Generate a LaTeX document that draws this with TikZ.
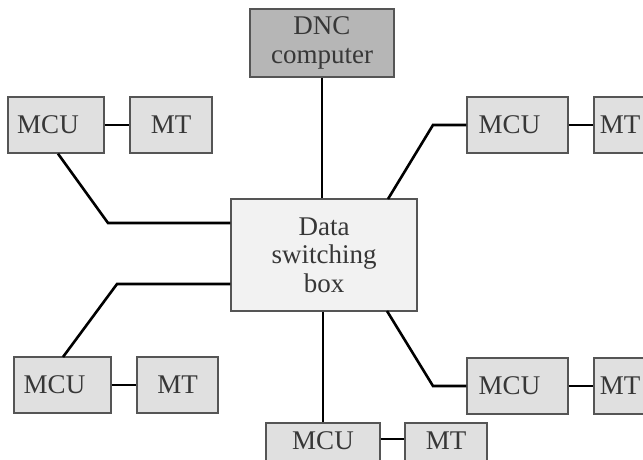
\documentclass[tikz,border=0pt]{standalone}
\usepackage{fontspec}
\setmainfont{Liberation Serif}
\definecolor{edgegray}{RGB}{85,85,85}
\definecolor{unitfill}{RGB}{224,224,224}
\definecolor{hostfill}{RGB}{182,182,182}
\definecolor{switchfill}{RGB}{242,242,242}
\definecolor{labelgray}{RGB}{55,55,55}
\newcommand{\leftlabel}[1]{#1\hspace{16pt}}
\begin{document}
\begin{tikzpicture}[x=1pt,y=-1pt,
  box/.style={draw=edgegray,line width=1.4pt,inner sep=0pt,align=center,
    text=labelgray,font=\fontsize{27}{28.5}\selectfont},
  unit/.style={box,fill=unitfill,minimum height=56pt},
  host/.style={box,fill=hostfill},
  switchbox/.style={box,fill=switchfill},
  wire/.style={draw=black,line width=2.6pt,line join=miter}]
\useasboundingbox (0,0) rectangle (643,459);
\clip (0,0) rectangle (643,459);
\fill[white] (0,0) rectangle (643,459);

% central nodes
\node[host,minimum width=144pt,minimum height=68pt] (dnc) at (322,43) {DNC\\computer};
\node[switchbox,minimum width=186pt,minimum height=112pt] (dsb) at (324,255) {Data\\switching\\box};

% machine control units and machine tools
\node[unit,minimum width=96pt] (mcuTL) at (56,125) {\leftlabel{MCU}};
\node[unit,minimum width=82pt] (mtTL) at (171,125) {MT};
\node[unit,minimum width=101pt] (mcuTR) at (517.5,125) {\leftlabel{MCU}};
\node[unit,minimum width=52pt] (mtTR) at (620,125) {MT};
\node[unit,minimum width=97pt] (mcuBL) at (62.5,385) {\leftlabel{MCU}};
\node[unit,minimum width=81pt] (mtBL) at (177.5,385) {MT};
\node[unit,minimum width=101pt] (mcuBR) at (517.5,386) {\leftlabel{MCU}};
\node[unit,minimum width=52pt] (mtBR) at (620,386) {MT};
\node[unit,minimum width=114pt,minimum height=40pt] (mcuB) at (323,443) {\raisebox{4pt}{MCU}};
\node[unit,minimum width=82pt,minimum height=40pt] (mtB) at (446,443) {\raisebox{4pt}{MT}};

% bend points of the links
\coordinate (bTL) at (108,223);
\coordinate (bTR) at (433,125);
\coordinate (bBL) at (117,284);
\coordinate (bBR) at (433,386);

% links to the switching box
\draw[wire] (dnc.south) -- (dnc.south |- dsb.north);
\draw[wire] ([xshift=2pt]mcuTL.south) -- (bTL) -- (bTL -| dsb.west);
\draw[wire] (mcuTR.west) -- (bTR) -- (388,199);
\draw[wire] (bBL -| dsb.west) -- (bBL) -- (63,357);
\draw[wire] (387,311) -- (bBR) -- (mcuBR.west);
\draw[wire] (mcuB.north |- dsb.south) -- (mcuB.north);

% unit to machine tool links
\draw[wire] (mcuTL.east) -- (mtTL.west);
\draw[wire] (mcuTR.east) -- (mtTR.west);
\draw[wire] (mcuBL.east) -- (mtBL.west);
\draw[wire] (mcuBR.east) -- (mtBR.west);
\draw[wire] ([yshift=4pt]mcuB.east) -- ([yshift=4pt]mtB.west);
\end{tikzpicture}
\end{document}
